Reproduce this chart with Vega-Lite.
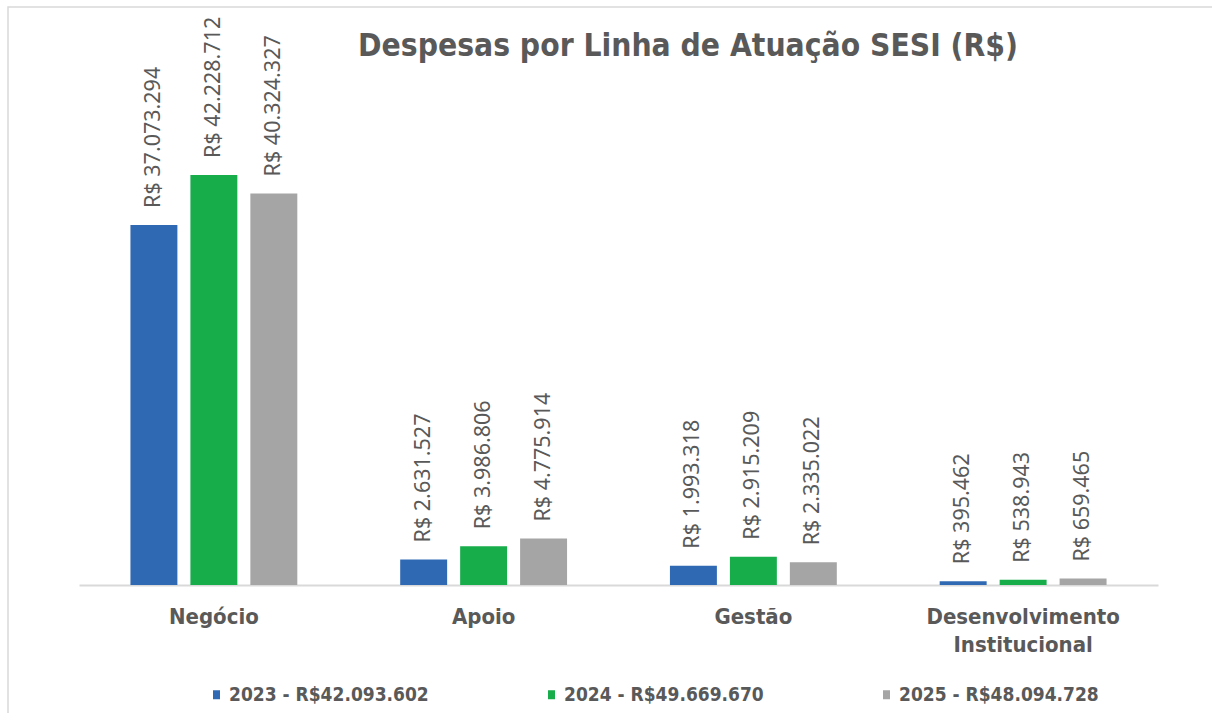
{
  "$schema": "https://vega.github.io/schema/vega-lite/v6.json",
  "autosize": {"type": "none"},
  "padding": {"left": 8, "top": 7, "right": 0, "bottom": 0},
  "width": 1210,
  "height": 710,
  "background": "#FFFFFF",
  "config": {
    "locale": {"number": {"decimal": ",", "thousands": ".", "grouping": [3], "currency": ["R$ ", ""]}},
    "view": {"stroke": "#D9D9D9", "strokeWidth": 1.5},
    "font": "DejaVu Sans Condensed"
  },
  "title": {
    "text": "Despesas por Linha de Atuação SESI (R$)",
    "frame": "group",
    "anchor": "middle",
    "dx": 75,
    "offset": -55,
    "font": "DejaVu Sans Condensed",
    "fontSize": 31.5,
    "fontWeight": "bold",
    "color": "#595959"
  },
  "data": {
    "values": [
      {"linha": "Negócio", "serie": "2023 - R$42.093.602", "valor": 37073294},
      {"linha": "Negócio", "serie": "2024 - R$49.669.670", "valor": 42228712},
      {"linha": "Negócio", "serie": "2025 - R$48.094.728", "valor": 40324327},
      {"linha": "Apoio", "serie": "2023 - R$42.093.602", "valor": 2631527},
      {"linha": "Apoio", "serie": "2024 - R$49.669.670", "valor": 3986806},
      {"linha": "Apoio", "serie": "2025 - R$48.094.728", "valor": 4775914},
      {"linha": "Gestão", "serie": "2023 - R$42.093.602", "valor": 1993318},
      {"linha": "Gestão", "serie": "2024 - R$49.669.670", "valor": 2915209},
      {"linha": "Gestão", "serie": "2025 - R$48.094.728", "valor": 2335022},
      {"linha": "Desenvolvimento Institucional", "serie": "2023 - R$42.093.602", "valor": 395462},
      {"linha": "Desenvolvimento Institucional", "serie": "2024 - R$49.669.670", "valor": 538943},
      {"linha": "Desenvolvimento Institucional", "serie": "2025 - R$48.094.728", "valor": 659465}
    ]
  },
  "encoding": {
    "x": {
      "field": "linha",
      "type": "nominal",
      "sort": ["Negócio", "Apoio", "Gestão", "Desenvolvimento Institucional"],
      "scale": {"range": [71, 1150], "paddingInner": 0, "paddingOuter": 0},
      "axis": {
        "title": null,
        "offset": -132,
        "ticks": false,
        "grid": false,
        "labelAngle": 0,
        "domainColor": "#D9D9D9",
        "domainWidth": 2,
        "labelFont": "DejaVu Sans Condensed",
        "labelFontWeight": "bold",
        "labelFontSize": 22,
        "labelColor": "#595959",
        "labelPadding": 21,
        "labelLineHeight": 28,
        "labelLimit": 0,
        "labelExpr": "datum.label == 'Desenvolvimento Institucional' ? ['Desenvolvimento', 'Institucional'] : datum.label"
      }
    },
    "xOffset": {
      "field": "serie",
      "type": "nominal",
      "sort": ["2023 - R$42.093.602", "2024 - R$49.669.670", "2025 - R$48.094.728"],
      "scale": {"paddingInner": 0.217, "paddingOuter": 0.858}
    },
    "y": {
      "field": "valor",
      "type": "quantitative",
      "scale": {"domain": [0, 45000000], "range": [578, 141]},
      "axis": null
    }
  },
  "layer": [
    {
      "mark": {"type": "bar"},
      "encoding": {
        "color": {
          "field": "serie",
          "type": "nominal",
          "sort": ["2023 - R$42.093.602", "2024 - R$49.669.670", "2025 - R$48.094.728"],
          "scale": {
            "domain": ["2023 - R$42.093.602", "2024 - R$49.669.670", "2025 - R$48.094.728"],
            "range": ["#2F69B3", "#17AD4B", "#A5A5A5"]
          },
          "legend": {
            "orient": "none",
            "legendX": 199,
            "legendY": 678,
            "direction": "horizontal",
            "title": null,
            "labelFont": "DejaVu Sans Condensed",
            "labelFontSize": 19,
            "labelFontWeight": "bold",
            "labelColor": "#595959",
            "symbolType": "M-0.78,-1H0.78V1H-0.78Z",
            "symbolSize": 81,
            "symbolStrokeWidth": 0,
            "symbolOpacity": 1,
            "labelOffset": 3,
            "columnPadding": 113,
            "labelLimit": 0,
            "padding": 0
          }
        }
      }
    },
    {
      "mark": {
        "type": "text",
        "angle": 270,
        "align": "left",
        "baseline": "middle",
        "dx": 17,
        "font": "Noto Sans",
        "fontSize": 21.5,
        "color": "#595959"
      },
      "encoding": {
        "text": {"field": "valor", "type": "quantitative", "format": "$,.0f"}
      }
    }
  ]
}
